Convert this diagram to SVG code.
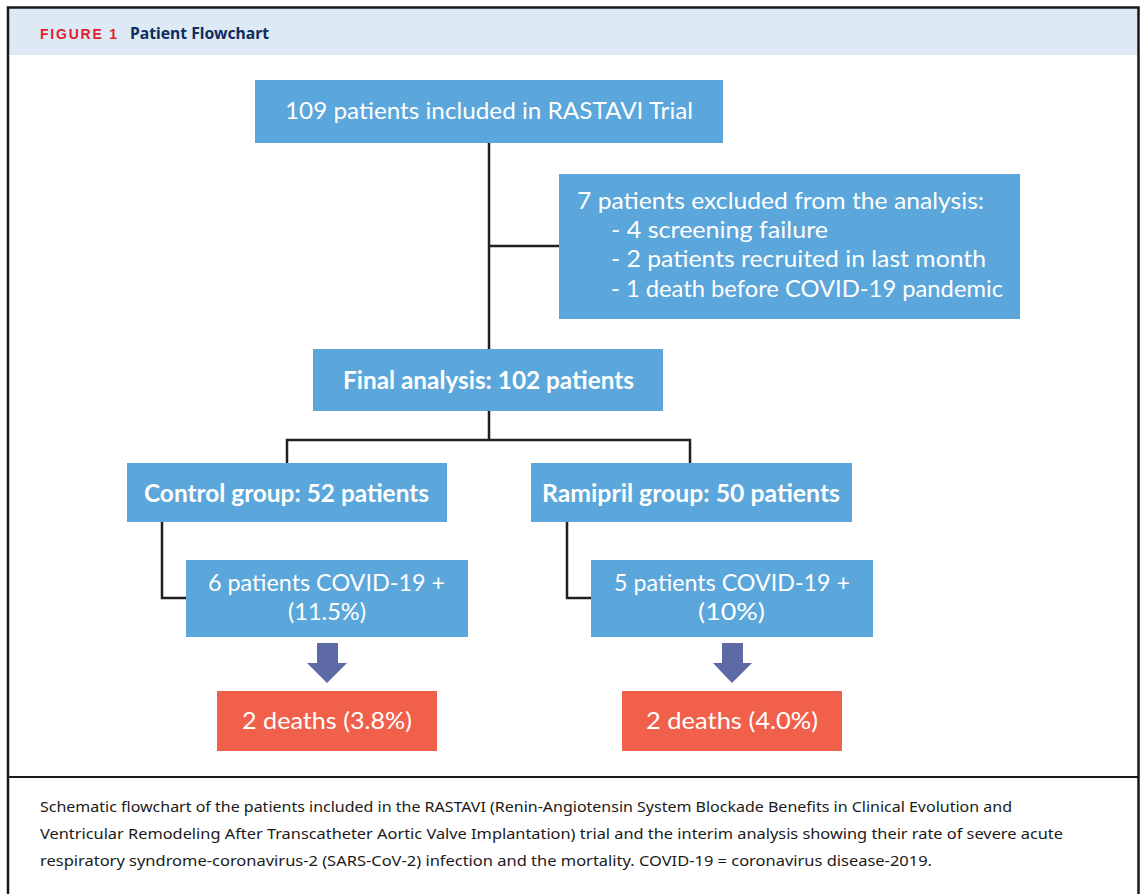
<svg xmlns="http://www.w3.org/2000/svg" width="1142" height="894" viewBox="0 0 1142 894">
<style>
.box{fill:#5ba6da}
.death{fill:#f0604a}
.t{font-family:Lato,"Noto Sans",sans-serif;font-size:24px;fill:#ffffff}
.tb{font-family:Lato,"Noto Sans",sans-serif;font-size:24px;font-weight:bold;fill:#ffffff}
.cap{font-family:"Noto Sans","Open Sans",sans-serif;font-size:15px;fill:#1a1a1a}
.conn{stroke:#231f20;stroke-width:2.5;fill:none}
.arrow{fill:#5d6aa5}
</style>
<rect x="0" y="0" width="1142" height="894" fill="#ffffff"/>
<g id="frame">
<rect x="8" y="8" width="1130" height="47" fill="#dde9f5"/>
<path d="M8 894 V7.5 H1138.5 V894" fill="none" stroke="#1a1a1a" stroke-width="2.5"/>
<line x1="8" y1="777" x2="1138" y2="777" stroke="#1a1a1a" stroke-width="2"/>
<text x="40" y="39" font-family="'Liberation Sans',sans-serif" font-size="14" font-weight="bold" fill="#e31e2d" textLength="77" lengthAdjust="spacing">FIGURE 1</text>
<text x="130" y="39" font-family="'Noto Sans',sans-serif" font-size="16" font-weight="bold" fill="#0f2d5e" textLength="139" lengthAdjust="spacingAndGlyphs">Patient Flowchart</text>
</g>
<g id="connectors">
<path class="conn" d="M489 143 V349"/>
<path class="conn" d="M489 246 H559"/>
<path class="conn" d="M489 411 V440 M287 465 V440 H690 V465"/>
<path class="conn" d="M162 522 V598 H186"/>
<path class="conn" d="M567 522 V598 H591"/>
<polygon class="arrow" points="317,643 338,643 338,663 347,663 327,683 307,663 317,663"/>
<polygon class="arrow" points="722,643 743,643 743,663 752,663 732,683 713,663 722,663"/>
</g>
<g id="n1">
<rect class="box" x="255" y="80" width="468" height="63"/>
<text class="t" x="285" y="119" textLength="408" lengthAdjust="spacingAndGlyphs">109 patients included in RASTAVI Trial</text>
</g>
<g id="n2">
<rect class="box" x="559" y="174" width="461" height="145"/>
<text class="t" x="577" y="209" textLength="407" lengthAdjust="spacingAndGlyphs">7 patients excluded from the analysis:</text>
<text class="t" x="611" y="238" textLength="217" lengthAdjust="spacingAndGlyphs">- 4 screening failure</text>
<text class="t" x="611" y="267" textLength="375" lengthAdjust="spacingAndGlyphs">- 2 patients recruited in last month</text>
<text class="t" x="611" y="297" textLength="392" lengthAdjust="spacingAndGlyphs">- 1 death before COVID-19 pandemic</text>
</g>
<g id="n3">
<rect class="box" x="313" y="349" width="350" height="62"/>
<text class="tb" x="343" y="389" textLength="291" lengthAdjust="spacingAndGlyphs">Final analysis: 102 patients</text>
</g>
<g id="n4">
<rect class="box" x="127" y="463" width="320" height="59"/>
<text class="tb" x="144" y="502" textLength="285" lengthAdjust="spacingAndGlyphs">Control group: 52 patients</text>
</g>
<g id="n5">
<rect class="box" x="531" y="463" width="321" height="59"/>
<text class="tb" x="542" y="502" textLength="298" lengthAdjust="spacingAndGlyphs">Ramipril group: 50 patients</text>
</g>
<g id="n6">
<rect class="box" x="186" y="560" width="282" height="77"/>
<text class="t" x="208" y="591" textLength="237" lengthAdjust="spacingAndGlyphs">6 patients COVID-19 +</text>
<text class="t" x="288" y="620" textLength="78" lengthAdjust="spacingAndGlyphs">(11.5%)</text>
</g>
<g id="n7">
<rect class="box" x="591" y="560" width="282" height="77"/>
<text class="t" x="614" y="591" textLength="236" lengthAdjust="spacingAndGlyphs">5 patients COVID-19 +</text>
<text class="t" x="698" y="620" textLength="67" lengthAdjust="spacingAndGlyphs">(10%)</text>
</g>
<g id="n8">
<rect class="death" x="217" y="691" width="220" height="60"/>
<text class="t" x="242" y="729" textLength="170" lengthAdjust="spacingAndGlyphs">2 deaths (3.8%)</text>
</g>
<g id="n9">
<rect class="death" x="622" y="691" width="220" height="60"/>
<text class="t" x="646" y="729" textLength="172" lengthAdjust="spacingAndGlyphs">2 deaths (4.0%)</text>
</g>
<g id="caption">
<text class="cap" x="40" y="812" textLength="972" lengthAdjust="spacingAndGlyphs">Schematic flowchart of the patients included in the RASTAVI (Renin-Angiotensin System Blockade Benefits in Clinical Evolution and</text>
<text class="cap" x="40" y="839" textLength="1023" lengthAdjust="spacingAndGlyphs">Ventricular Remodeling After Transcatheter Aortic Valve Implantation) trial and the interim analysis showing their rate of severe acute</text>
<text class="cap" x="40" y="866" textLength="892" lengthAdjust="spacingAndGlyphs">respiratory syndrome-coronavirus-2 (SARS-CoV-2) infection and the mortality. COVID-19 = coronavirus disease-2019.</text>
</g>
</svg>
